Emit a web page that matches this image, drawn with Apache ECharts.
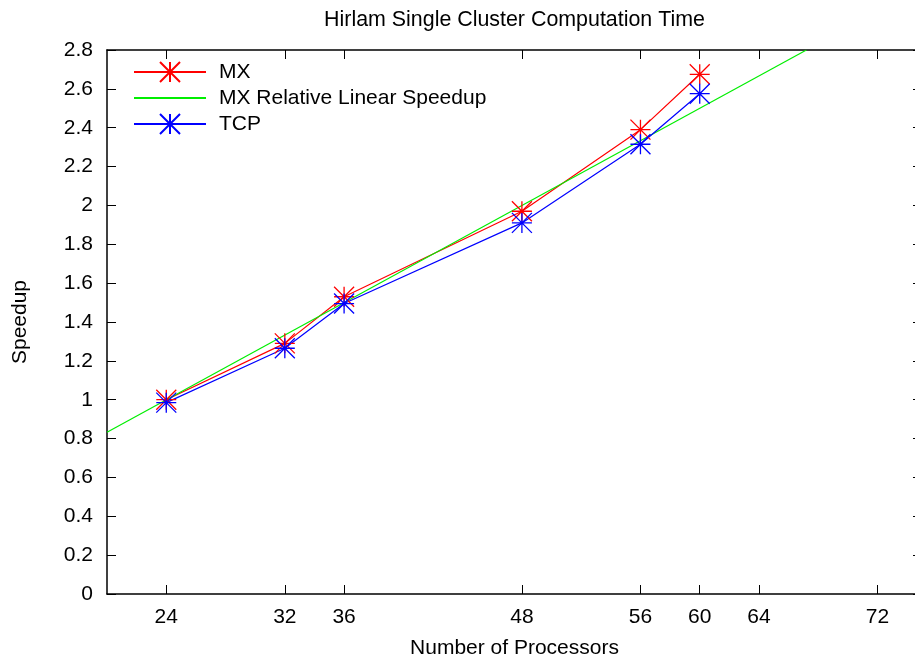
<!DOCTYPE html>
<html>
<head>
<meta charset="utf-8">
<script src="https://cdn.jsdelivr.net/npm/echarts@6/dist/echarts.min.js"></script>
<style>
html,body{margin:0;padding:0;background:#fff;}
#c{width:915px;height:662px;}
</style>
</head>
<body>
<div id="c"></div>
<script>
const processors = [24, 32, 36, 48, 56, 60];
const mxSpeedup = [1.00, 1.29, 1.53, 1.97, 2.39, 2.675];
const tcpSpeedup = [0.985, 1.265, 1.495, 1.91, 2.315, 2.575];
const linearX = [20, 67.2];
const linearY = [0.833, 2.8];
const xTicks = [24, 32, 36, 48, 56, 60, 64, 72];
const seriesNames = ['MX', 'MX Relative Linear Speedup', 'TCP'];

const FONT = '"Liberation Sans", Arial, Helvetica, sans-serif';
const STAR = 'path://M10 0L10 20M0 10L20 10M0 0L20 20M20 0L0 20';

const pairs = (xs, ys) => xs.map((x, i) => [x, ys[i]]);

const chart = echarts.init(document.getElementById('c'), null, {renderer: 'canvas'});
const tickCommon = {show: true, inside: true, length: 9, lineStyle: {color: '#000', width: 1}};
chart.setOption({
  animation: false,
  backgroundColor: '#fff',
  textStyle: {fontFamily: FONT},
  title: {
    text: 'Hirlam Single Cluster Computation Time',
    left: 514.5, textAlign: 'center', top: 10, padding: 0,
    textStyle: {fontFamily: FONT, fontSize: 21.4, fontWeight: 'normal', color: '#000'}
  },
  legend: {
    left: 133, top: 61, orient: 'vertical',
    itemWidth: 72, itemHeight: 25, itemGap: 4.5,
    padding: 0,
    data: [
      {name: seriesNames[0]},
      {name: seriesNames[1], itemStyle: {opacity: 0}},
      {name: seriesNames[2]}
    ],
    textStyle: {fontFamily: FONT, fontSize: 21, color: '#000', padding: [0, 0, 0, 8]}
  },
  grid: {left: 107, top: 50, width: 815, height: 544, containLabel: false, outerBoundsMode: 'none'},
  xAxis: [{
    type: 'value', min: 20, max: 75, position: 'bottom',
    name: 'Number of Processors', nameLocation: 'middle', nameGap: 44,
    nameTextStyle: {fontFamily: FONT, fontSize: 21, color: '#000'},
    axisLine: {show: true, lineStyle: {color: '#000', width: 1.5}},
    axisTick: Object.assign({customValues: xTicks}, tickCommon),
    axisLabel: {customValues: xTicks, fontFamily: FONT, fontSize: 21, color: '#000', margin: 13},
    splitLine: {show: false}
  }, {
    type: 'value', min: 20, max: 75, position: 'top',
    axisLine: {show: true, onZero: false, lineStyle: {color: '#000', width: 1.5}},
    axisTick: Object.assign({customValues: xTicks}, tickCommon),
    axisLabel: {show: false},
    splitLine: {show: false}
  }],
  yAxis: [{
    type: 'value', min: 0, max: 2.8, interval: 0.2, position: 'left',
    name: 'Speedup', nameLocation: 'middle', nameGap: 76, nameRotate: 90,
    nameTextStyle: {fontFamily: FONT, fontSize: 21, color: '#000'},
    axisLine: {show: true, lineStyle: {color: '#000', width: 1.5}},
    axisTick: tickCommon,
    axisLabel: {fontFamily: FONT, fontSize: 21, color: '#000', margin: 14},
    splitLine: {show: false}
  }, {
    type: 'value', min: 0, max: 2.8, interval: 0.2, position: 'right',
    axisLine: {show: true, onZero: false, lineStyle: {color: '#000', width: 1.5}},
    axisTick: tickCommon,
    axisLabel: {show: false},
    splitLine: {show: false}
  }],
  series: [{
    name: seriesNames[0], type: 'line',
    data: pairs(processors, mxSpeedup),
    symbol: STAR, symbolSize: 20,
    lineStyle: {color: '#ff0000', width: 1.2},
    itemStyle: {color: '#ff0000', borderColor: '#ff0000', borderWidth: 1.3},
    emphasis: {disabled: true}
  }, {
    name: seriesNames[1], type: 'line',
    data: pairs(linearX, linearY),
    symbol: 'none',
    lineStyle: {color: '#00ee00', width: 1.2},
    itemStyle: {color: '#00ee00'},
    emphasis: {disabled: true}
  }, {
    name: seriesNames[2], type: 'line',
    data: pairs(processors, tcpSpeedup),
    symbol: STAR, symbolSize: 20,
    lineStyle: {color: '#0000ff', width: 1.2},
    itemStyle: {color: '#0000ff', borderColor: '#0000ff', borderWidth: 1.3},
    emphasis: {disabled: true}
  }]
});
</script>
</body>
</html>
